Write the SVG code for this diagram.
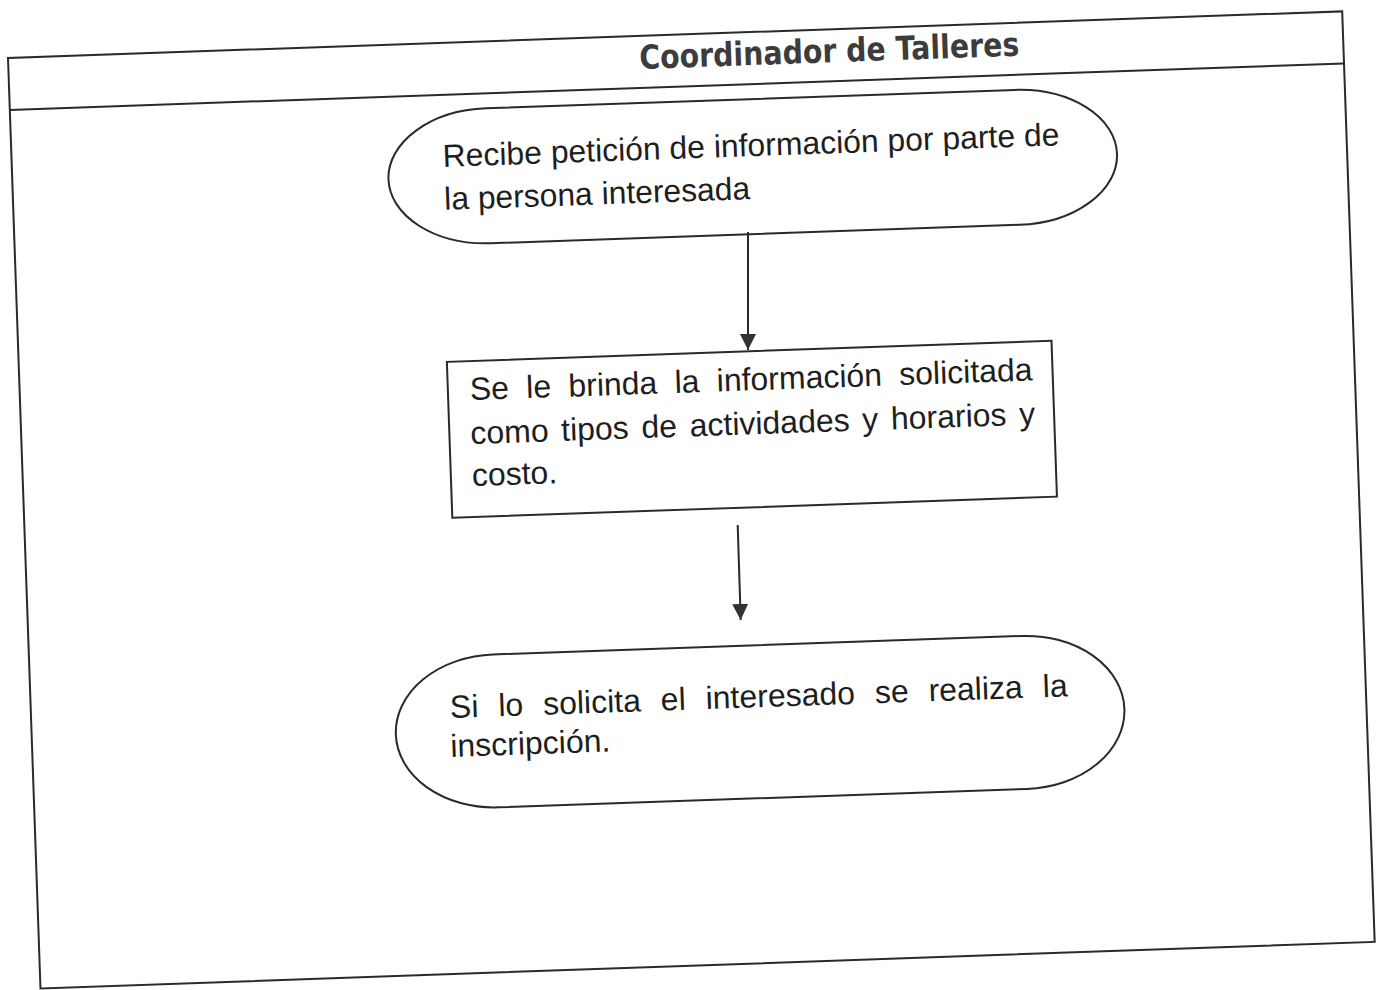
<svg xmlns="http://www.w3.org/2000/svg" width="1382" height="990" viewBox="0 0 1382 990">
  <style>
    .bg { fill: #ffffff; }
    .frame { fill: none; stroke: #2a2a2a; stroke-width: 2; }
    .shape { fill: #ffffff; stroke: #2a2a2a; stroke-width: 2; }
    .txt { font-family: "Liberation Sans", Arial, sans-serif; font-size: 32px; fill: #1e1e1e; }
    .title { font-family: "DejaVu Sans", Verdana, sans-serif; font-weight: bold; font-size: 33px; fill: #3c3c3c; }
    .conn { stroke: #2a2a2a; stroke-width: 2; fill: none; }
  </style>
  <defs>
    <marker id="ah" viewBox="0 0 16 16" refX="16" refY="8" markerWidth="16" markerHeight="16" markerUnits="userSpaceOnUse" orient="auto">
      <path d="M0,0 L16,8 L0,16 z" fill="#333333"/>
    </marker>
  </defs>
  <rect class="bg" x="0" y="0" width="1382" height="990"/>
  <g transform="translate(8,58) rotate(-2)">
    <g id="lane">
      <rect class="frame" x="0" y="0" width="1335" height="931"/>
      <line class="frame" x1="0" y1="52" x2="1335" y2="52"/>
      <text class="title" x="631" y="33" textLength="380" lengthAdjust="spacingAndGlyphs">Coordinador de Talleres</text>
    </g>
    <g id="n1">
      <rect class="shape" x="376" y="67" width="729" height="135" rx="100" ry="67.5"/>
      <text class="txt" x="431" y="124" textLength="617" lengthAdjust="spacingAndGlyphs">Recibe petición de información por parte de</text>
      <text class="txt" x="431" y="167" textLength="306" lengthAdjust="spacingAndGlyphs">la persona interesada</text>
    </g>
    <g id="n2">
      <rect class="shape" x="428" y="319" width="605" height="156"/>
      <text class="txt" x="450" y="358" word-spacing="8.4" textLength="563" lengthAdjust="spacing">Se le brinda la información solicitada</text>
      <text class="txt" x="449" y="402" word-spacing="3.8" textLength="565" lengthAdjust="spacing">como tipos de actividades y horarios y</text>
      <text class="txt" x="449" y="444">costo.</text>
    </g>
    <g id="n3">
      <rect class="shape" x="364" y="613" width="729" height="153" rx="100" ry="76.5"/>
      <text class="txt" x="419" y="675" word-spacing="11" textLength="618" lengthAdjust="spacing">Si lo solicita el interesado se realiza la</text>
      <text class="txt" x="418" y="714">inscripción.</text>
    </g>
  </g>
  <g id="connectors">
    <line class="conn" x1="748" y1="232" x2="748" y2="350" marker-end="url(#ah)"/>
    <line class="conn" x1="737.7" y1="525" x2="740.7" y2="620" marker-end="url(#ah)"/>
  </g>
</svg>
